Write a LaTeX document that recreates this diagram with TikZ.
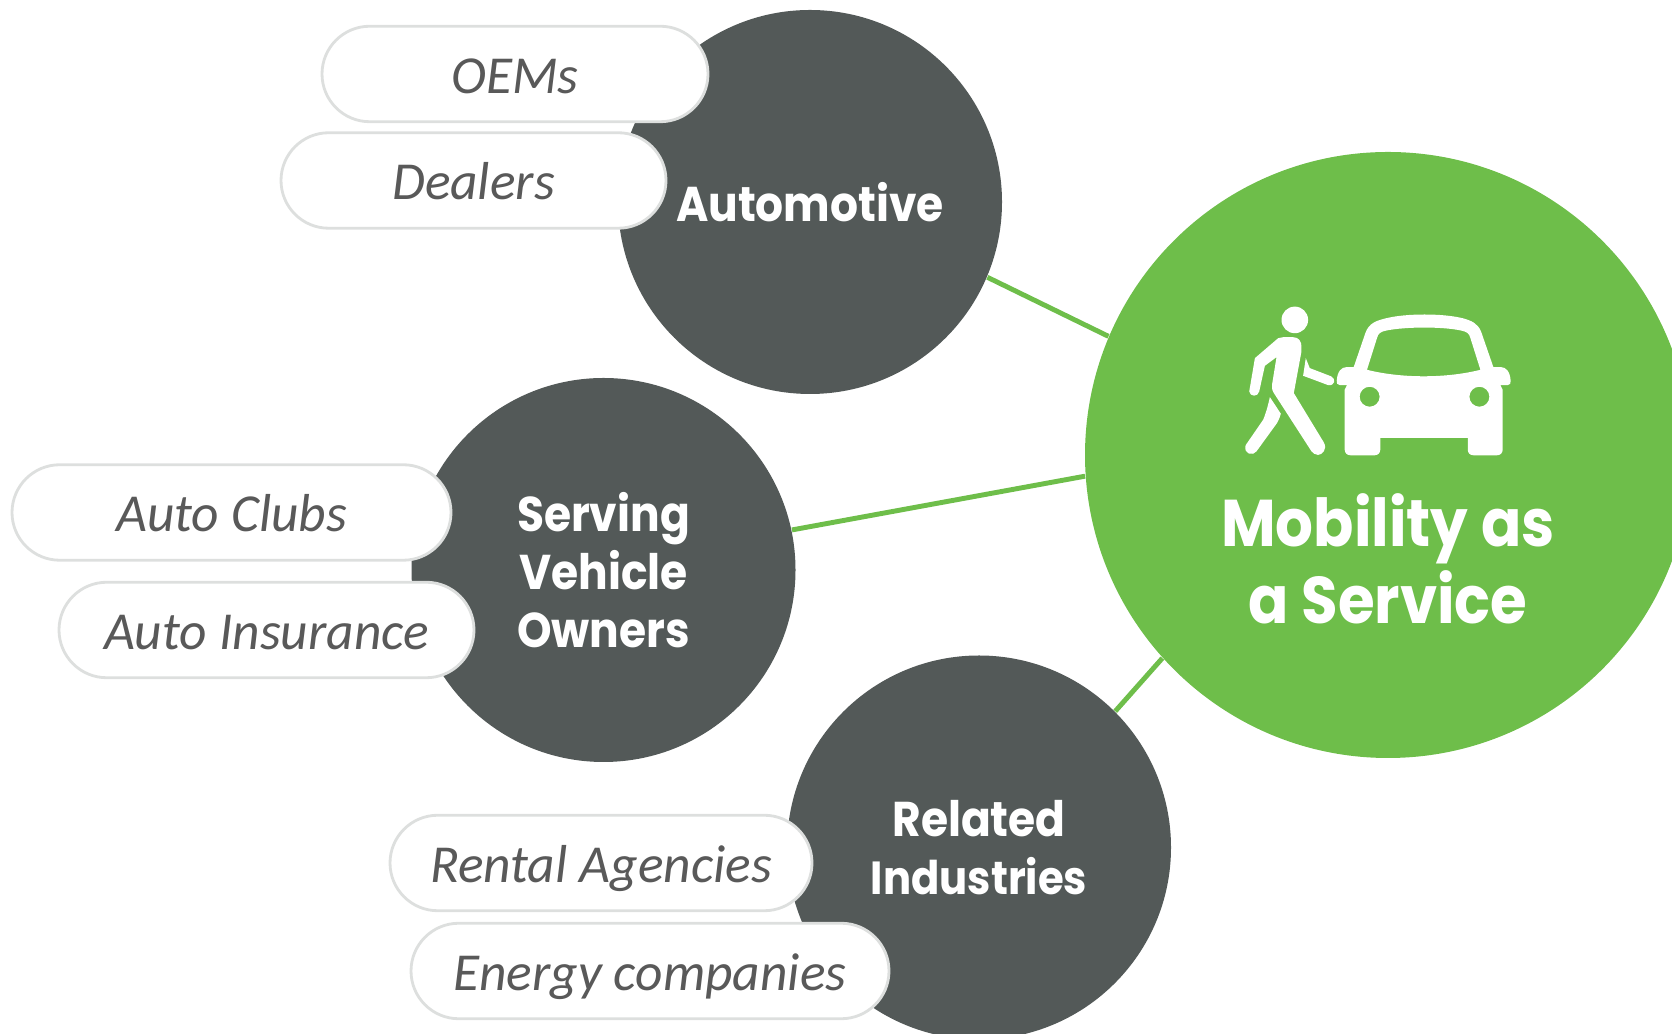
\documentclass[tikz,border=0pt]{standalone}
\usepackage{fontspec}
\setmainfont{Carlito}
\newfontfamily\hubfont[FakeStretch=0.9]{Poppins}
\usetikzlibrary{shapes.misc}
\definecolor{hubgreen}{HTML}{6EBE4A}
\definecolor{hubgrey}{HTML}{535958}
\definecolor{pillline}{HTML}{DDDFDE}
\definecolor{pilltext}{HTML}{595959}
\begin{document}
\begin{tikzpicture}
        \tikzstyle{hub} = [circle,fill=hubgrey,text=white,minimum size=3.84cm,inner sep=0pt,align=center,font=\hubfont\bfseries\fontsize{13.9}{16.6}\selectfont]
        \tikzstyle{pill} = [rounded rectangle,draw=pillline,line width=0.8pt,fill=white,text=pilltext,minimum height=0.955cm,inner sep=0pt,text height=0.42cm,text depth=0.03cm,font=\itshape\fontsize{15.2}{18}\selectfont]
        \tikzstyle{link} = [hubgreen,line width=1.4pt]

        \clip (0,0) rectangle (16.72,10.34);

        \node[hub,fill=hubgreen,minimum size=6.06cm] (M) at (13.88,5.79){};
        \node[hub] (A) at (8.10,8.32){Automotive};
        \node[hub] (S) at (6.035,4.64){Serving\\Vehicle\\Owners};
        \node[hub] (R) at (9.79,1.865){Related\\{\fontsize{13.2}{16.6}\selectfont Industries}};

        \node[text=white,align=center,inner sep=0pt,font=\hubfont\bfseries\fontsize{18.8}{21.8}\selectfont] (Mlabel) at (13.88,4.75){Mobility as\\a Service};

        \draw[link] (A.-23.3) -- (M.157);
        \draw[link] (S.12.2) -- (M.184);
        \draw[link] (R.45) -- (M.222.7);

        \node[pill,minimum width=3.86cm] (oems) at (5.15,9.60){OEMs};
        \node[pill,minimum width=3.85cm] (dealers) at (4.735,8.535){Dealers};
        \node[pill,minimum width=4.39cm] (clubs) at (2.315,5.215){Auto Clubs};
        \node[pill,minimum width=4.15cm] (insurance) at (2.665,4.04){Auto Insurance};
        \node[pill,minimum width=4.22cm] (rental) at (6.01,1.71){Rental Agencies};
        \node[pill,minimum width=4.78cm] (energy) at (6.50,0.63){Energy companies};

        % walker and car, traced
        \begin{scope}[shift={(12.0,7.54)},x=0.00333cm,y=-0.00333cm]
        \fill[white] (285,120) circle [radius=40];
        \fill[white] (165,235) -- (235,175) .. controls (240,172) and (245,172) .. (250,172) -- (280,172) .. controls (297,172) and (305,185) .. (305,200) -- (305,215) -- (282,340) -- (372,488) .. controls (385,510) and (365,526) .. (355,526) .. controls (345,526) and (340,520) .. (335,515) -- (222,340) .. controls (216,330) and (215,322) .. (217,312) -- (230,232) -- (195,258) -- (178,335) .. controls (175,352) and (150,352) .. (148,335) -- cycle;
        \fill[white] (210,352) -- (243,402) .. controls (238,420) and (232,430) .. (228,435) -- (170,515) .. controls (160,530) and (130,525) .. (137,497) -- (190,420) .. controls (200,395) and (205,375) .. (210,352) -- cycle;
        \fill[white] (318,235) -- (330,265) -- (395,290) .. controls (410,297) and (405,320) .. (385,316) -- (310,288) -- cycle;
        \fill[white,even odd rule] (435,510) -- (435,330) -- (442,316) -- (420,316) .. controls (412,316) and (410,310) .. (411,303) .. controls (413,275) and (425,262) .. (440,262) -- (462,262) -- (497,160) .. controls (507,130) and (530,122) .. (560,115) .. controls (620,100) and (730,100) .. (790,115) .. controls (815,122) and (835,130) .. (845,155) -- (882,262) -- (905,262) .. controls (920,262) and (932,275) .. (934,303) .. controls (935,310) and (932,316) .. (925,316) -- (903,316) -- (910,330) -- (910,510) .. controls (910,520) and (903,527) .. (893,527) -- (822,527) .. controls (812,527) and (805,520) .. (805,510) -- (805,475) -- (542,475) -- (542,510) .. controls (542,520) and (535,527) .. (525,527) -- (452,527) .. controls (442,527) and (435,520) .. (435,510) -- cycle
        (502,270) -- (532,175) .. controls (536,160) and (542,156) .. (560,152) .. controls (620,140) and (730,140) .. (785,152) .. controls (803,156) and (809,160) .. (813,175) -- (843,270) .. controls (740,296) and (605,296) .. (502,270) -- cycle
        (510,351) circle [radius=30]
        (840,351) circle [radius=30];
        \end{scope}

\end{tikzpicture}
\end{document}
